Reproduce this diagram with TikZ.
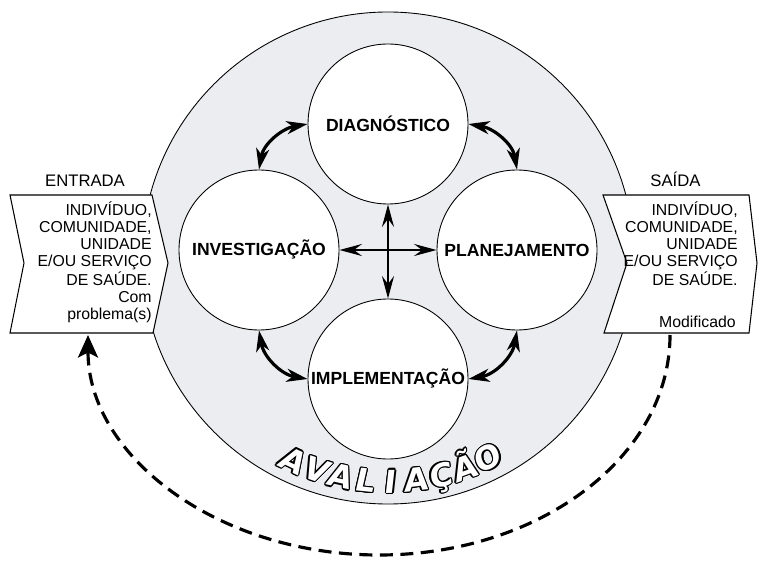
\documentclass[tikz,border=0pt]{standalone}
\usepackage{fontspec}
\setmainfont{Liberation Sans}
\newfontfamily\evalfont{DejaVu Sans}[FakeSlant=0.12]
\usetikzlibrary{arrows.meta,calc}

\definecolor{ringgray}{RGB}{236,237,240}

\tikzset{
  ring/.style={circle, draw, line width=0.5pt, fill=ringgray, minimum size=9.84cm, inner sep=0pt},
  stage/.style={circle, draw, line width=0.5pt, fill=white, minimum size=3.2cm, inner sep=0pt,
    font=\fontsize{10}{12}\selectfont\bfseries},
  iobox/.style={draw, line width=0.6pt, fill=white},
  iotext/.style={inner sep=0pt, align=right, font=\fontsize{9}{9.7}\selectfont},
  iolabel/.style={inner sep=0pt, font=\fontsize{9.5}{11}\selectfont},
  evalletter/.style={inner sep=0pt, anchor=base, text=white, font=\evalfont\bfseries\fontsize{18}{18}\selectfont},
  cyclearrow/.style={line width=1.8pt,
    {Stealth[length=0.42cm,width=0.26cm,inset=0.12cm]}-{Stealth[length=0.42cm,width=0.26cm,inset=0.12cm]}},
  crossarrow/.style={line width=1.4pt,
    {Stealth[length=0.45cm,width=0.24cm,inset=0.16cm]}-{Stealth[length=0.45cm,width=0.24cm,inset=0.16cm]}},
  returnarrow/.style={line width=1.8pt, dash pattern=on 0.26cm off 0.15cm,
    -{Stealth[length=0.45cm,width=0.4cm,inset=0.1cm]}}
}

\begin{document}
\begin{tikzpicture}[line cap=butt, line join=miter, x=1cm, y=1cm]

  \useasboundingbox (0,0) rectangle (15.16,-11.44);

  \node[ring] (ring) at (7.76,-5.16) {};

  \draw[iobox] (0.2,-3.9) -- (3.04,-3.9) -- (3.36,-5.26) -- (3.06,-6.66) -- (0.2,-6.66) -- (0.48,-5.26) -- cycle;
  \draw[iobox] (12.06,-3.9) -- (14.98,-3.9) -- (15.14,-5.26) -- (14.98,-6.66) -- (12.08,-6.66) -- (12.54,-5.26) -- cycle;

  \node[iolabel, anchor=base] (inlabel) at (1.70,-3.74) {ENTRADA};
  \node[iolabel, anchor=base] (outlabel) at (13.51,-3.74) {SAÍDA};

  \node[iotext, anchor=north east] (intext) at (3.04,-4.03)
    {INDIVÍDUO,\\COMUNIDADE,\\UNIDADE\\E/OU SERVIÇO\\DE SAÚDE.\\Com\\problema(s)};
  \node[iotext, anchor=north east] (outtext) at (14.76,-4.03)
    {INDIVÍDUO,\\COMUNIDADE,\\UNIDADE\\E/OU SERVIÇO\\DE SAÚDE.};
  \node[iotext, anchor=base east] (outnote) at (14.72,-6.55) {Modificado};

  \node[stage] (diag) at (7.76,-2.48) {DIAGNÓSTICO};
  \node[stage] (invest) at (5.18,-5.0) {INVESTIGAÇÃO};
  \node[stage] (plan) at (10.34,-5.0) {PLANEJAMENTO};
  \node[stage] (impl) at (7.76,-7.58) {IMPLEMENTAÇÃO};

  \draw[crossarrow] (diag.south) -- (impl.north);
  \draw[crossarrow] (invest.east) -- (plan.west);

  \draw[cyclearrow] (invest.north) to[out=80, in=190] (diag.west);
  \draw[cyclearrow] (diag.east) to[out=-10, in=100] (plan.north);
  \draw[cyclearrow] (plan.south) to[out=260, in=10] (impl.east);
  \draw[cyclearrow] (impl.west) to[out=170, in=280] (invest.south);

  \foreach \ch [count=\i from 0] in {A,V,A,L,I,A,Ç,Ã,O}
  {
    \pgfmathsetmacro\ang{244.6+6.46*\i}
    \coordinate (aval\i) at ($(ring.center)+(\ang:4.7)$);
    \foreach \o in {0,30,...,330}
      \node[evalletter, text=black, rotate=\ang-270] at ($(aval\i)+(\o:0.7pt)$) {\ch};
    \node[evalletter, rotate=\ang-270] (avalch\i) at (aval\i) {\ch};
  }

  \coordinate (outfoot) at (13.4,-6.7);
  \coordinate (infoot) at (1.76,-6.7);
  \draw[returnarrow] (outfoot) arc[start angle=0, end angle=-180, x radius=5.82, y radius=4.4];

\end{tikzpicture}
\end{document}
